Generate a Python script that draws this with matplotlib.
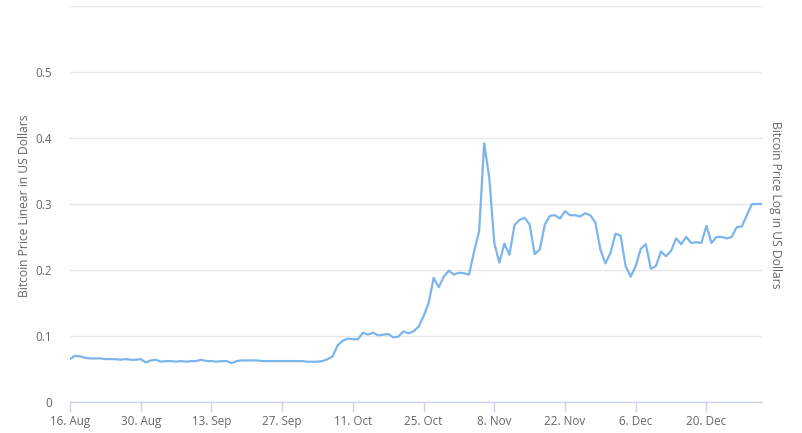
import numpy as np
import pandas as pd
import matplotlib
matplotlib.use("Agg")
import matplotlib.pyplot as plt
import matplotlib.dates as mdates
from matplotlib.ticker import FuncFormatter

# daily price, 16 Aug 2010 .. 31 Dec 2010
start_date = "2010-08-16"
prices = [
    0.065, 0.070, 0.069, 0.067, 0.066, 0.066, 0.066, 0.065, 0.065, 0.065,
    0.064, 0.065, 0.064, 0.064, 0.065, 0.060, 0.063, 0.064, 0.061, 0.062,
    0.062, 0.061, 0.062, 0.061, 0.062, 0.062, 0.064, 0.062, 0.062, 0.061,
    0.062, 0.062, 0.059, 0.062, 0.063, 0.063, 0.063, 0.063, 0.062, 0.062,
    0.062, 0.062, 0.062, 0.062, 0.062, 0.062, 0.062, 0.061, 0.061, 0.061,
    0.062, 0.065, 0.069, 0.086, 0.093, 0.096, 0.095, 0.095, 0.105, 0.102,
    0.105, 0.101, 0.102, 0.103, 0.098, 0.099, 0.107, 0.104, 0.107, 0.114,
    0.130, 0.150, 0.188, 0.174, 0.190, 0.199, 0.193, 0.196, 0.195, 0.193,
    0.228, 0.259, 0.392, 0.340, 0.241, 0.211, 0.240, 0.223, 0.268, 0.276,
    0.279, 0.269, 0.224, 0.231, 0.269, 0.282, 0.283, 0.278, 0.289, 0.283,
    0.283, 0.281, 0.286, 0.283, 0.272, 0.231, 0.210, 0.226, 0.255, 0.252,
    0.206, 0.190, 0.206, 0.232, 0.239, 0.202, 0.206, 0.228, 0.221, 0.229,
    0.248, 0.239, 0.250, 0.241, 0.242, 0.241, 0.267, 0.241, 0.250, 0.250,
    0.248, 0.250, 0.265, 0.266, 0.283, 0.300, 0.300, 0.300,
]
dates = pd.date_range(start_date, periods=len(prices), freq="D")
tick_dates = pd.date_range(start_date, "2010-12-31", freq="14D")
y_ticks = [0, 0.1, 0.2, 0.3, 0.4, 0.5]

plt.rcParams["font.family"] = ["Open Sans", "DejaVu Sans"]

W, H = 803, 433
fig = plt.figure(figsize=(W / 100, H / 100), dpi=100)
ax = fig.add_axes([70 / W, (H - 402) / H, (762 - 70) / W, (402 - 6) / H])

ax.plot(dates, prices, color="#7cb5ec", linewidth=1.6, solid_joinstyle="round")

ax.set_ylim(0, 0.6)
ax.set_xlim(dates[0], dates[-1])
ax.set_yticks(y_ticks + [0.6])
ax.set_yticklabels([f"{v:g}" for v in y_ticks] + [""])
ax.grid(axis="y", color="#e6e6e6", linewidth=1)
ax.set_axisbelow(True)

ax.set_xticks(tick_dates)
ax.xaxis.set_major_formatter(
    FuncFormatter(lambda x, pos: (lambda d: f"{d.day}. {d.strftime('%b')}")(mdates.num2date(x))))

for s in ["top", "right", "left"]:
    ax.spines[s].set_visible(False)
ax.spines["bottom"].set_color("#ccd6eb")
ax.spines["bottom"].set_linewidth(1)

ax.tick_params(axis="x", colors="#ccd6eb", length=7.2, width=1, pad=2,
               labelcolor="#666666", labelsize=8.4)
ax.tick_params(axis="y", length=0, pad=13, labelcolor="#666666", labelsize=8.4)

fig.text(25 / W, 1 - 206 / H, "Bitcoin Price Linear in US Dollars", rotation=90,
         ha="center", va="center", color="#666666", fontsize=8.7)
fig.text(776 / W, 1 - 205 / H, "Bitcoin Price Log in US Dollars", rotation=270,
         ha="center", va="center", color="#666666", fontsize=8.7)

fig.savefig("out.png", dpi=100)
